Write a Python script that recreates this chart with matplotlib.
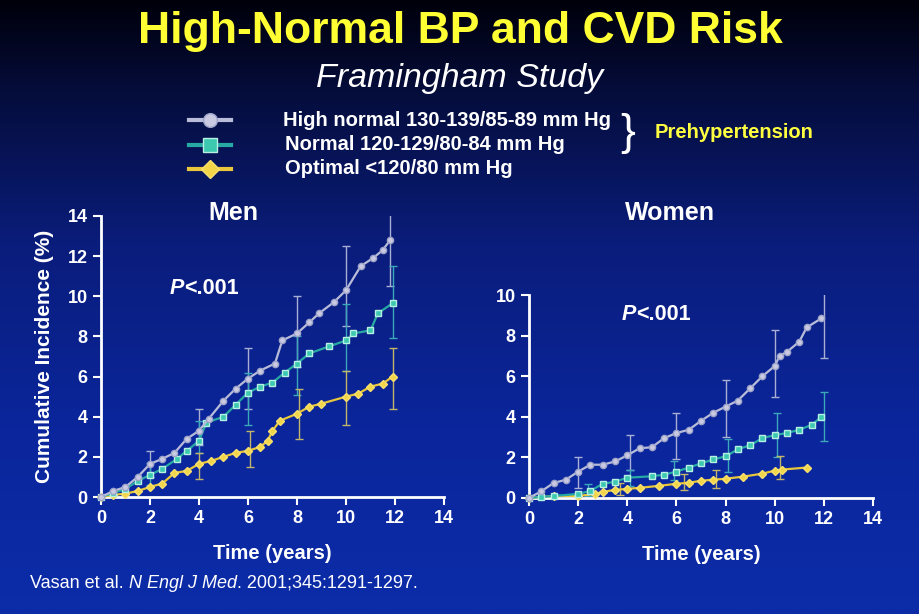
import numpy as np
import matplotlib
matplotlib.use("Agg")
import matplotlib.pyplot as plt
from matplotlib.colors import LinearSegmentedColormap
from matplotlib.lines import Line2D

plt.rcParams['font.family'] = ['Liberation Sans', 'DejaVu Sans']

# ---- data (time in years, cumulative incidence in %) ----
men_hn_t = [0, 0.5, 1, 1.5, 2, 2.5, 3, 3.5, 4, 4.4, 5, 5.5, 6, 6.5, 7.1, 7.4, 8, 8.5, 8.9, 9.5, 10, 10.6, 11.1, 11.5, 11.8]
men_hn_v = [0, 0.3, 0.5, 1.0, 1.65, 1.9, 2.2, 2.9, 3.3, 3.9, 4.8, 5.4, 5.9, 6.3, 6.65, 7.8, 8.15, 8.7, 9.15, 9.7, 10.3, 11.5, 11.9, 12.3, 12.8]
men_n_t = [0, 0.5, 1, 1.5, 2, 2.5, 3.1, 3.5, 4, 4.3, 5, 5.5, 6, 6.5, 7, 7.5, 8, 8.5, 9.3, 10, 10.3, 11, 11.3, 11.9]
men_n_v = [0, 0.2, 0.4, 0.8, 1.1, 1.4, 1.9, 2.3, 2.8, 3.7, 4.0, 4.6, 5.2, 5.5, 5.7, 6.2, 6.65, 7.15, 7.5, 7.8, 8.15, 8.3, 9.15, 9.65]
men_o_t = [0, 0.5, 1, 1.5, 2, 2.5, 3, 3.5, 4, 4.5, 5, 5.5, 6, 6.5, 6.8, 7, 7.3, 8, 8.5, 9, 10, 10.5, 11, 11.5, 11.9]
men_o_v = [0, 0.1, 0.17, 0.3, 0.5, 0.67, 1.2, 1.3, 1.65, 1.8, 2.0, 2.2, 2.3, 2.5, 2.8, 3.3, 3.8, 4.15, 4.5, 4.65, 5.0, 5.15, 5.5, 5.65, 6.0]

wom_hn_t = [0, 0.5, 1, 1.5, 2, 2.5, 3, 3.5, 4, 4.5, 5, 5.5, 6, 6.5, 7, 7.5, 8, 8.5, 9, 9.5, 10, 10.2, 10.5, 11, 11.3, 11.9]
wom_hn_v = [0, 0.33, 0.74, 0.9, 1.3, 1.64, 1.64, 1.8, 2.1, 2.45, 2.5, 2.95, 3.2, 3.36, 3.8, 4.2, 4.5, 4.8, 5.4, 6.0, 6.5, 7.0, 7.2, 7.7, 8.4, 8.85]
wom_n_t = [0, 0.5, 1, 2, 2.5, 3, 3.5, 4, 5, 5.5, 6, 6.5, 7, 7.5, 8, 8.5, 9, 9.5, 10, 10.5, 11, 11.5, 11.9]
wom_n_v = [0, 0.05, 0.1, 0.2, 0.35, 0.7, 0.8, 1.0, 1.07, 1.15, 1.3, 1.5, 1.7, 1.9, 2.05, 2.4, 2.6, 2.95, 3.1, 3.2, 3.36, 3.6, 4.0]
wom_o_t = [0, 1, 2, 2.7, 3, 3.5, 4, 4.5, 5.3, 6, 6.5, 7, 7.5, 8, 8.7, 9.5, 10, 10.3, 11.3]
wom_o_v = [0, 0.1, 0.1, 0.2, 0.3, 0.4, 0.45, 0.5, 0.6, 0.7, 0.75, 0.85, 0.9, 0.95, 1.05, 1.2, 1.35, 1.4, 1.5]

# 95% CI bars: x, low, high
men_hn_ci = ([2, 4, 6, 8, 10, 11.8], [1.0, 2.6, 4.4, 6.5, 8.5, 10.5], [2.3, 4.4, 7.4, 10.0, 12.5, 15.0])
men_n_ci = ([2, 4, 6, 8, 10, 11.9], [0.6, 2.2, 3.6, 5.1, 6.3, 7.9], [1.7, 3.8, 6.2, 8.0, 9.6, 11.5])
men_o_ci = ([4, 6.1, 8.1, 10, 11.9], [0.9, 1.5, 2.9, 3.6, 4.4], [2.2, 3.3, 5.4, 6.3, 7.4])
wom_hn_ci = ([2, 4.1, 6, 8, 10, 12], [0.5, 1.4, 1.9, 3.0, 5.0, 6.9], [2.0, 3.1, 4.2, 5.8, 8.3, 11.0])
wom_n_ci = ([2.4, 4.1, 5.9, 8.1, 10.1, 12], [0.1, 0.6, 0.9, 1.3, 2.0, 2.8], [0.7, 1.4, 1.8, 2.9, 4.2, 5.2])
wom_o_ci = ([3.7, 6.3, 7.6, 10.2], [0.15, 0.4, 0.5, 0.95], [0.75, 1.2, 1.4, 2.05])

legend_labels = ["High normal 130-139/85-89 mm Hg", "Normal 120-129/80-84 mm Hg", "Optimal <120/80 mm Hg"]

# styles
styles = [
    dict(color='#b8bcd8', marker='o', mfc='#c9c9e2', mec='#9da3c8', ms=4.5),
    dict(color='#27a9a4', marker='s', mfc='#3cc9b0', mec='#b8f0e4', ms=4.5),
    dict(color='#e8c83a', marker='D', mfc='#f2d548', mec='#f7e070', ms=4),
]
ci_colors = ['#a9aed4', '#3aa8b8', '#c2b468']

W, H = 920, 614
def fx(x): return x / W
def fy(y): return 1 - y / H

fig = plt.figure(figsize=(9.2, 6.14), dpi=100)

# background gradient
cmap = LinearSegmentedColormap.from_list('bg', [(0, '#00000a'), (0.15, '#050d3c'), (0.4, '#0a1d7c'), (0.7, '#0b269c'), (1, '#0c2ca8')])
bg = fig.add_axes([0, 0, 1, 1], zorder=-5)
bg.imshow(np.linspace(0, 1, 256).reshape(-1, 1), aspect='auto', cmap=cmap, extent=[0, 1, 0, 1])
bg.axis('off')

fig.text(0.5, fy(31), "High-Normal BP and CVD Risk", color='#ffff33', fontsize=32, fontweight='bold', ha='center', va='center')
fig.text(0.5, fy(78), "Framingham Study", color='white', fontsize=24.5, style='italic', ha='center', va='center')

# legend
for i, (lab, st) in enumerate(zip(legend_labels, styles)):
    y = fy(120 + 24.5 * i)
    fig.add_artist(Line2D([fx(189), fx(231)], [y, y], transform=fig.transFigure, color=st['color'], lw=3))
    fig.add_artist(Line2D([fx(210)], [y], transform=fig.transFigure, marker=st['marker'], mfc=st['mfc'],
                          mec=st['mec'], ms=st['ms'] * 2.2, lw=0))
    fig.text(fx(283 if i == 0 else 285), y, lab, color='white', fontsize=14.5, fontweight='bold', va='center')
fig.text(fx(620), fy(133), "}", color='white', fontsize=32, va='center')
fig.text(fx(655), fy(132), "Prehypertension", color='#ffff40', fontsize=14.5, fontweight='bold', va='center')

def style_axes(ax, ymax, ystep):
    ax.set_facecolor('none')
    ax.set_xlim(0, 14)
    ax.set_ylim(0, ymax)
    ax.set_xticks(range(0, 15, 2))
    ax.set_yticks(range(0, ymax + 1, ystep))
    for s in ['top', 'right']:
        ax.spines[s].set_visible(False)
    for s in ['left', 'bottom']:
        ax.spines[s].set_color('white')
        ax.spines[s].set_linewidth(2)
    ax.tick_params(colors='white', direction='out', length=6, width=1.5, labelsize=13)
    for lab in ax.get_xticklabels() + ax.get_yticklabels():
        lab.set_fontweight('bold')
    ax.set_xlabel("Time (years)", color='white', fontsize=14.5, fontweight='bold', labelpad=12)

def draw_panel(ax, series, cis):
    for st, (cx, lo, hi), cc in zip(styles, cis, ci_colors):
        lo = np.array(lo); hi = np.array(hi)
        mid = (lo + hi) / 2
        ax.errorbar(cx, mid, yerr=[mid - lo, hi - mid], fmt='none', ecolor=cc, elinewidth=1, capsize=3, capthick=1, zorder=2)
    for (t, v), st in list(zip(series, styles))[::-1]:
        ax.plot(t, v, lw=1.6, clip_on=False, zorder=3, **st)

ax1 = fig.add_axes([fx(101), fy(497), fx(444) - fx(101), fy(216) - fy(497)])
style_axes(ax1, 14, 2)
draw_panel(ax1, [(men_hn_t, men_hn_v), (men_n_t, men_n_v), (men_o_t, men_o_v)], [men_hn_ci, men_n_ci, men_o_ci])
ax1.set_ylabel("Cumulative Incidence (%)", color='white', fontsize=15, fontweight='bold', labelpad=10)

ax2 = fig.add_axes([fx(529), fy(498), fx(873) - fx(529), fy(295) - fy(498)])
style_axes(ax2, 10, 2)
draw_panel(ax2, [(wom_hn_t, wom_hn_v), (wom_n_t, wom_n_v), (wom_o_t, wom_o_v)], [wom_hn_ci, wom_n_ci, wom_o_ci])

fig.text(fx(233), fy(213), "Men", color='white', fontsize=18, fontweight='bold', ha='center', va='center')
fig.text(fx(670), fy(213), "Women", color='white', fontsize=18, fontweight='bold', ha='center', va='center')

renderer = fig.canvas.get_renderer()

def run_text(x, y, pieces, **kw):
    # draw text pieces one after another, x,y in pixels
    for txt, extra in pieces:
        t = fig.text(fx(x), fy(y), txt, va='center', **kw, **extra)
        bb = t.get_window_extent(renderer)
        x += bb.width

run_text(170, 288, [("P", dict(style='italic')), ("<.001", {})], color='white', fontsize=15.5, fontweight='bold')
run_text(622, 315, [("P", dict(style='italic')), ("<.001", {})], color='white', fontsize=15.5, fontweight='bold')
run_text(30, 583, [("Vasan et al. ", {}), ("N Engl J Med", dict(style='italic')), (". 2001;345:1291-1297.", {})],
         color='white', fontsize=13)

fig.savefig("out.png", dpi=100)
